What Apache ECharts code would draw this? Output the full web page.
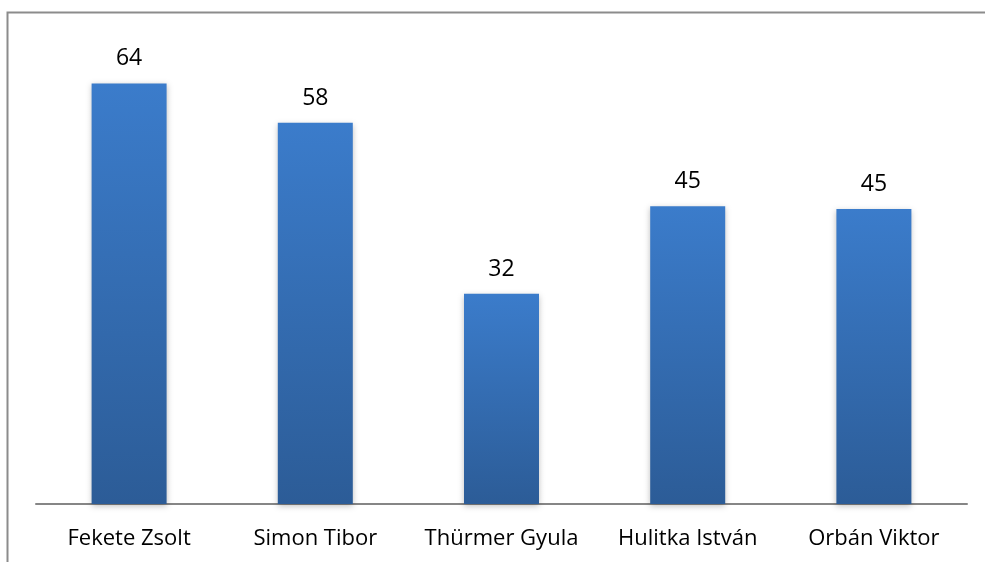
<!DOCTYPE html>
<html>
<head>
<meta charset="utf-8">
<script src="https://cdn.jsdelivr.net/npm/echarts@6/dist/echarts.min.js"></script>
<style>
  html, body { margin: 0; padding: 0; background: #fff; }
  #chart { width: 985px; height: 562px; }
</style>
</head>
<body>
<div id="chart"></div>
<script>
// data
const names = ['Fekete Zsolt', 'Simon Tibor', 'Thürmer Gyula', 'Hulitka István', 'Orbán Viktor']
const votes = [64, 58, 32, 45.3, 44.9]

const chart = echarts.init(document.getElementById('chart'))

const option = {
  animation: false,
  backgroundColor: '#fff',
  textStyle: { fontFamily: 'Open Sans' },
  graphic: [
    // chart frame (cut off at right and bottom)
    {
      type: 'rect',
      left: 5,
      top: 10,
      shape: { width: 1000, height: 600 },
      style: { fill: 'none', stroke: '#8c8c8c', lineWidth: 2 },
      silent: true
    }
  ],
  grid: {
    left: 36,
    right: 18,
    top: 44,
    bottom: 58
  },
  xAxis: {
    type: 'category',
    data: names,
    axisLine: { lineStyle: { color: '#868686', width: 2 } },
    axisTick: { show: false },
    axisLabel: {
      color: '#000',
      fontSize: 22,
      margin: 24,
      interval: 0,
      hideOverlap: false
    }
  },
  yAxis: {
    type: 'value',
    min: 0,
    max: 70,
    show: false,
    splitLine: { show: false }
  },
  series: [
    {
      type: 'bar',
      data: votes,
      barWidth: 75,
      itemStyle: {
        color: new echarts.graphic.LinearGradient(0, 0, 0, 1, [
          { offset: 0, color: '#3b7ccb' },
          { offset: 1, color: '#2c5c97' }
        ]),
        shadowColor: 'rgba(0,0,0,0.25)',
        shadowBlur: 6,
        shadowOffsetY: 2
      },
      label: {
        show: true,
        position: 'top',
        distance: 13,
        color: '#000',
        fontSize: 23,
        formatter: p => Math.round(p.value)
      }
    }
  ]
}

chart.setOption(option)
</script>
</body>
</html>
